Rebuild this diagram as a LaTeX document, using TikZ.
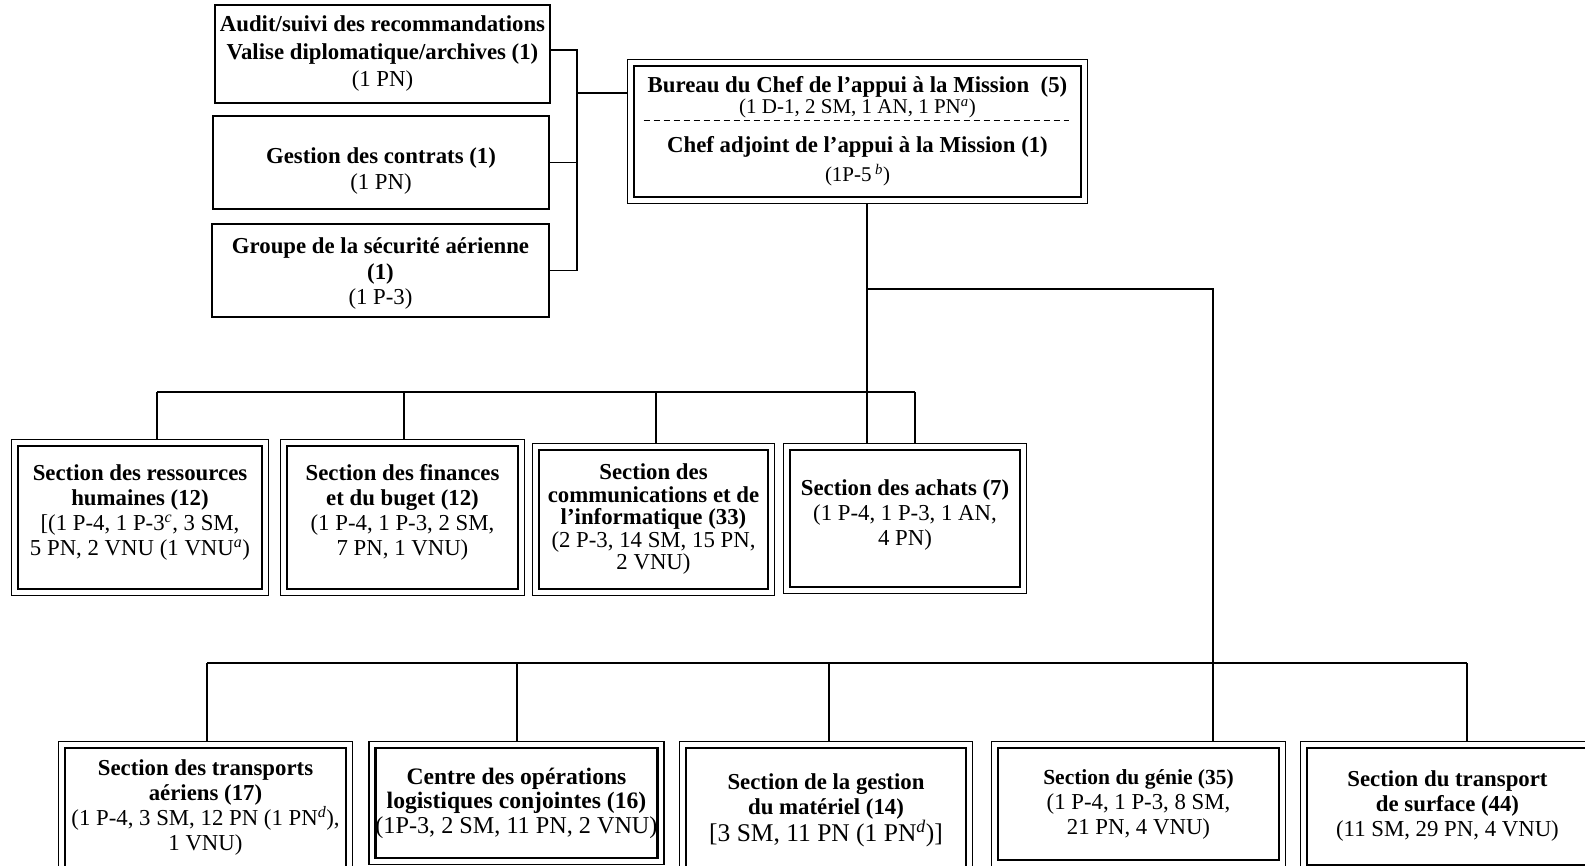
\documentclass[tikz,border=0pt]{standalone}
\usepackage{fontspec}
\setmainfont{Liberation Serif}
\usetikzlibrary{positioning,calc}
\newcommand{\fnm}[1]{\textsuperscript{\itshape #1}}

\begin{document}
\begin{tikzpicture}[x=1pt,y=-1pt,font=\fontsize{22.8}{25}\selectfont]
  \tikzset{
    office/.style={draw,line width=1.3pt,align=center,inner sep=0pt},
    section/.style={draw,line width=2.8pt,align=center,inner sep=0pt},
    link/.style={line width=1.3pt},
    frame/.style={line width=1.3pt},
    split/.style={line width=1.1pt,dash pattern=on 6pt off 4pt}
  }
  \useasboundingbox (0,0) rectangle (1585,866);
  \clip (0,0) rectangle (1585,866);
  % immediate office units
  \node[office,minimum width=335pt,minimum height=98pt] (audit) at (382.5,54) {\textbf{Audit/suivi des recommandations}\\[2.5pt]\textbf{Valise diplomatique/archives (1)}\\[2.5pt](1 PN)};
  \node[office,minimum width=336pt,minimum height=93pt] (contrats) at (381,162.5) {\mbox{}\\[7pt]\textbf{Gestion des contrats (1)}\\[1pt](1 PN)};
  \node[office,minimum width=337pt,minimum height=93pt] (aviation) at (380.5,270.5) {\mbox{}\\[-3pt]\textbf{Groupe de la sécurité aérienne}\\[1pt]\textbf{(1)}\\[0pt](1 P-3)};
  \node[section,minimum width=447pt,minimum height=131pt] (bureau) at (857.5,131.5) {\textbf{Bureau du Chef de l’appui à la Mission\ \ (5)}\\[-4pt]{\fontsize{21}{25}\selectfont(1 D-1, 2 SM, 1 AN, 1 PN\fnm{a})}\\[14pt]\textbf{Chef adjoint de l’appui à la Mission (1)}\\[4pt]{\fontsize{21}{25}\selectfont(1P-5\,\fnm{b})}};
  % sections, middle row
  \node[section,minimum width=244pt,minimum height=143pt] (rh) at (140,517.5) {\textbf{Section des ressources}\\\textbf{humaines (12)}\\{[}(1 P-4, 1 P-3\fnm{c}, 3 SM,\\5 PN, 2 VNU (1 VNU\fnm{a})\\[-10pt]\mbox{}};
  \node[section,minimum width=231pt,minimum height=143pt] (fin) at (402.5,517.5) {\textbf{Section des finances}\\\textbf{et du buget (12)}\\(1 P-4, 1 P-3, 2 SM,\\7 PN, 1 VNU)\\[-10pt]\mbox{}};
  \node[section,minimum width=229pt,minimum height=139pt] (comms) at (653.5,519.5) {\textbf{Section des}\\[-2.5pt]\textbf{communications et de}\\[-2.5pt]\textbf{l’informatique (33)}\\[-2.5pt](2 P-3, 14 SM, 15 PN,\\[-2.5pt]2 VNU)};
  \node[section,minimum width=230pt,minimum height=137pt] (achats) at (905,518.5) {\textbf{Section des achats (7)}\\(1 P-4, 1 P-3, 1 AN,\\4 PN)\\[-14pt]\mbox{}};
  % sections, bottom row
  \node[section,minimum width=281pt,minimum height=119pt] (air) at (205.5,807.5) {\textbf{Section des transports}\\\textbf{aériens (17)}\\(1 P-4, 3 SM, 12 PN (1 PN\fnm{d}),\\1 VNU)};
  \node[section,minimum width=281pt,minimum height=110pt,font=\fontsize{23.6}{24.5}\selectfont] (jloc) at (516.5,803) {\textbf{Centre des opérations}\\\textbf{logistiques conjointes (16)}\\{\fontsize{24.2}{24.5}\selectfont(1P-3, 2 SM, 11 PN, 2 VNU)}};
  \node[section,minimum width=280pt,minimum height=124pt] (supply) at (826,810) {\textbf{Section de la gestion}\\\textbf{du matériel (14)}\\{\fontsize{25.5}{25}\selectfont{[}3 SM, 11 PN (1 PN\fnm{d})]}};
  \node[section,minimum width=281pt,minimum height=112pt] (engr) at (1138.5,804) {{\fontsize{21.5}{25}\selectfont\textbf{Section du génie (35)}}\\(1 P-4, 1 P-3, 8 SM,\\21 PN, 4 VNU)};
  \node[section,minimum width=281pt,minimum height=117pt] (surface) at (1447.5,806.5) {\textbf{Section du transport}\\\textbf{de surface (44)}\\(11 SM, 29 PN, 4 VNU)};
  % outer thin frames
  \foreach \n in {bureau,rh,fin,comms,achats,air,jloc,supply,engr,surface}
    \draw[frame] ([shift={(-5,-5)}]\n.north west) rectangle ([shift={(5,5)}]\n.south east);
  \draw[split] ([xshift=11pt,yshift=11pt]bureau.west) -- ([xshift=-13pt,yshift=11pt]bureau.east);
  % connectors
  \coordinate (brk) at (577,93);
  \coordinate (hubA) at (867,289);
  \coordinate (hubC) at (1213,289);
  \coordinate (busM) at (0,392);
  \coordinate (busB) at (0,663);
  \draw[link] ([yshift=4pt]audit.east) -| (brk) |- (aviation.east);
  \draw[link] (contrats.east) -- (contrats.east -| brk);
  \draw[link,shorten >=5pt] (brk) -- (brk -| bureau.west);
  \draw[link,shorten <=5pt,shorten >=5pt] (bureau.south -| hubA) -- (achats.north -| hubA);
  \draw[link,shorten >=5pt] (hubA) -- (hubC) -- (engr.north -| hubC);
  \draw[link] ([xshift=17pt]rh.north |- busM) -- ([xshift=10pt]achats.north |- busM);
  \foreach \n/\d in {rh/17,fin/1.5,comms/2.5,achats/10}
    \draw[link,shorten >=5pt] ([xshift=\d pt]\n.north |- busM) -- ([xshift=\d pt]\n.north);
  \draw[link] ([xshift=1.5pt]air.north |- busB) -- ([xshift=19.5pt]surface.north |- busB);
  \foreach \n/\d in {air/1.5,jloc/0.5,supply/3,surface/19.5}
    \draw[link,shorten >=5pt] ([xshift=\d pt]\n.north |- busB) -- ([xshift=\d pt]\n.north);
\end{tikzpicture}
\end{document}
